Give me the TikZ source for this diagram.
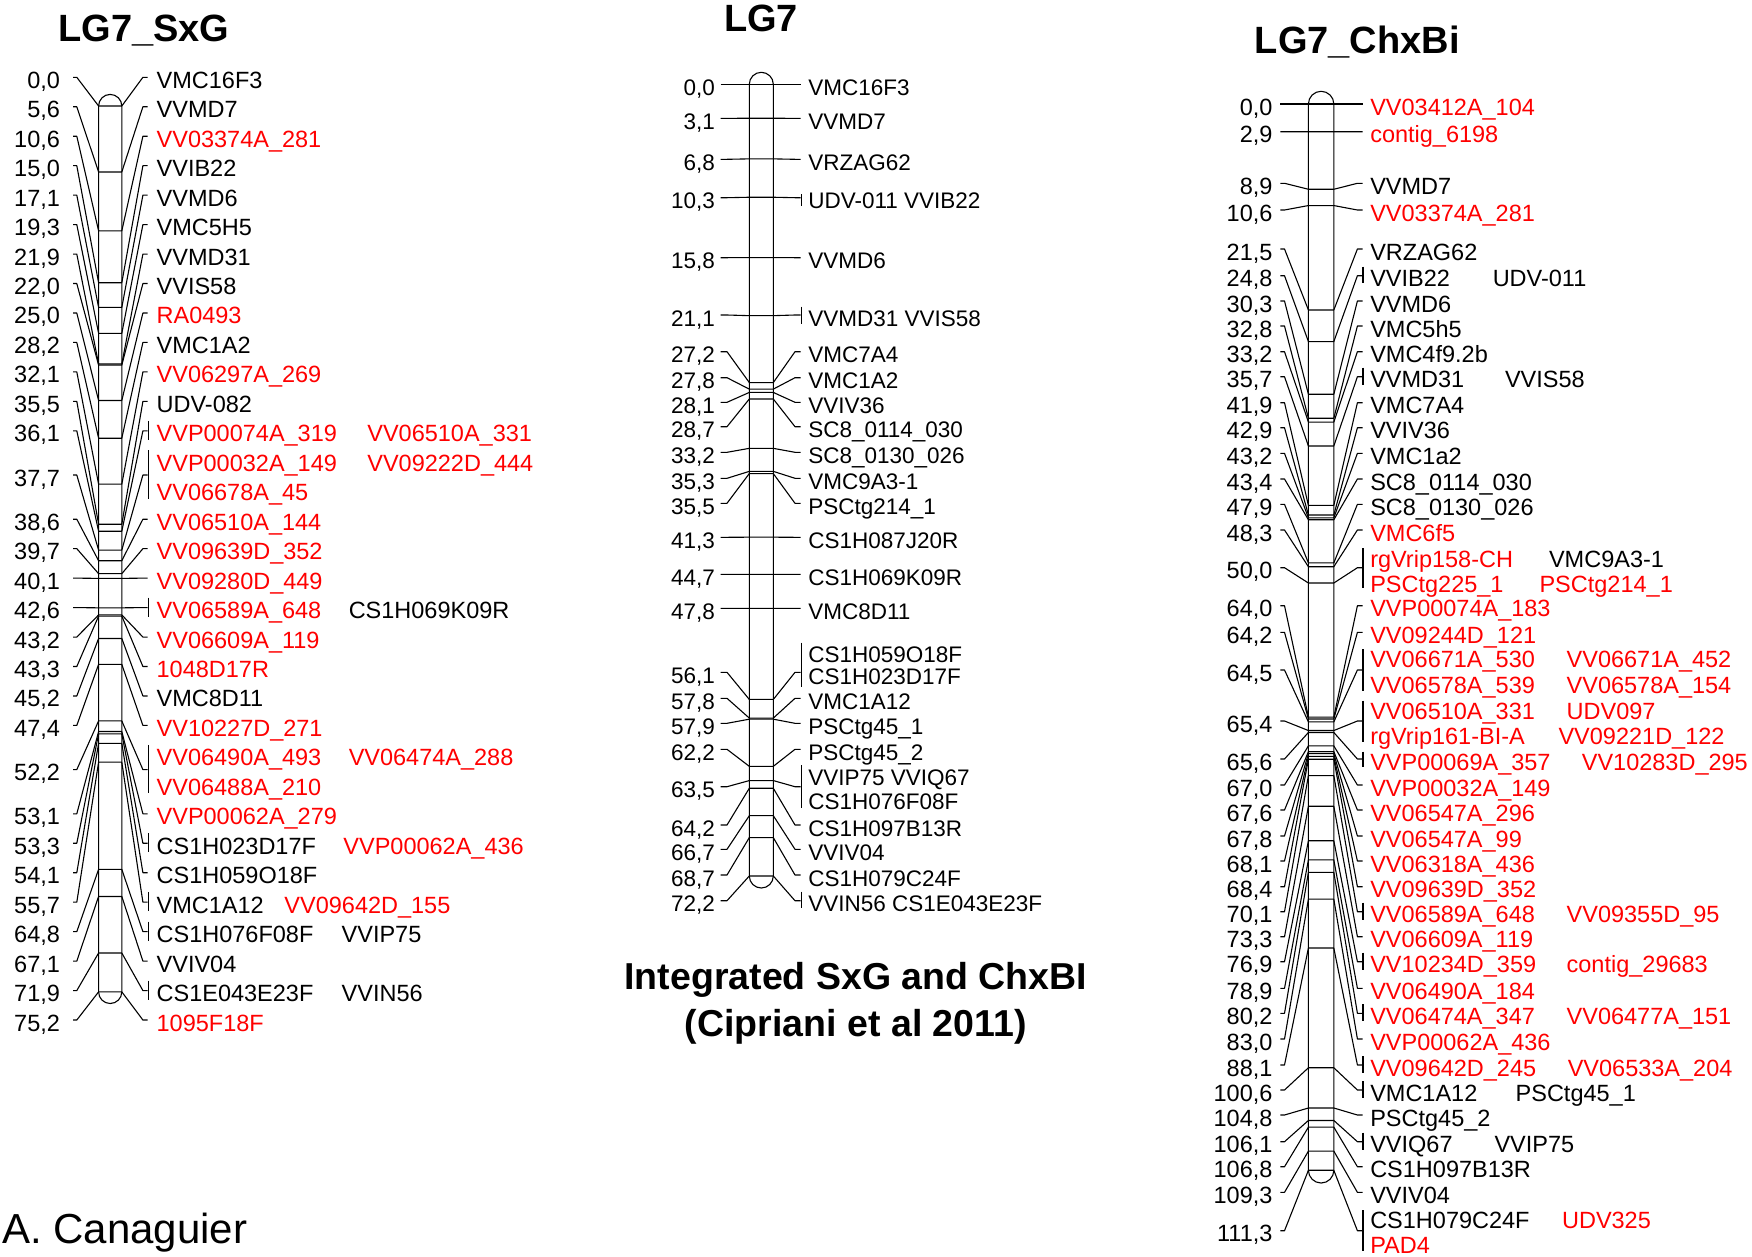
\documentclass[tikz,border=0pt]{standalone}
\usepackage{fontspec}
\setmainfont{Liberation Sans}
\pgfkeys{/pgf/number format/.cd,fixed,fixed zerofill,precision=1,use comma,assume math mode=true}
\tikzset{lbl/.style = {font=\fontsize{23.5}{28}\selectfont, inner sep=0, anchor=base west}}
\tikzset{lblm/.style = {lbl, font=\fontsize{22.5}{27}\selectfont}}
\tikzset{dist/.style = {lbl, anchor=base east}}
\tikzset{distm/.style = {lblm, anchor=base east}}
\tikzset{ttl/.style = {font=\fontsize{38}{44}\selectfont\bfseries, inner sep=0, anchor=base}}
\tikzset{
  every picture/.style={
    every path/.style={line width=1.1pt, line join=round},
  }
}

\begin{document}
\begin{tikzpicture}[x=1pt, y=-1pt]
  \useasboundingbox (0,0) rectangle (1752,1256);

  % ---------------- LG7_SxG ----------------
  \node[ttl] (sxg-title) at (143.8,41.7) {LG7\_SxG};
  \draw (98.6,106) arc[start angle=180,end angle=360,radius=11.6]
        -- (121.8,991.9) arc[start angle=0,end angle=180,radius=11.6] -- cycle;
  \foreach \cm/\rw [count=\i] in {0.0/0,5.6/1,10.6/2,15.0/3,17.1/4,19.3/5,21.9/6,
      22.0/7,25.0/8,28.2/9,32.1/10,35.5/11,36.1/12,37.7/13.5,38.6/15,39.7/16,
      40.1/17,42.6/18,43.2/19,43.3/20,45.2/21,47.4/22,52.2/23.5,53.1/25,53.3/26,
      54.1/27,55.7/28,64.8/29,67.1/30,71.9/31,75.2/32}{
    \pgfmathsetmacro\ym{106+11.78*\cm}
    \pgfmathsetmacro\yr{77.3+29.46*\rw}
    \draw (73.2,\yr) -- (76.8,\yr) -- (98.6,\ym) -- (121.8,\ym) -- (142.9,\yr) -- (147.5,\yr);
    \node[dist] (sxg-d\i) at (60.5,\yr+11) {\pgfmathprintnumber{\cm}};
  }
  \foreach \a/\b in {12/12,13/14,18/18,23/24,26/26,28/28,29/29,31/31}
    \draw (148.2,77.3+29.46*\a-10) -- (148.2,77.3+29.46*\b+9);
  \foreach \rw/\xx/\col/\txt [count=\i] in {0/156.1/black/VMC16F3,1/156.1/black/VVMD7,
      2/156.1/red/VV03374A\_281,3/156.1/black/VVIB22,4/156.1/black/VVMD6,
      5/156.1/black/VMC5H5,6/156.1/black/VVMD31,7/156.1/black/VVIS58,
      8/156.1/red/RA0493,9/156.1/black/VMC1A2,10/156.1/red/VV06297A\_269,
      11/156.1/black/UDV-082,12/156.1/red/VVP00074A\_319,12/366.8/red/VV06510A\_331,
      13/156.1/red/VVP00032A\_149,13/366.8/red/VV09222D\_444,14/156.1/red/VV06678A\_45,
      15/156.1/red/VV06510A\_144,16/156.1/red/VV09639D\_352,17/156.1/red/VV09280D\_449,
      18/156.1/red/VV06589A\_648,18/348.2/black/CS1H069K09R,19/156.1/red/VV06609A\_119,
      20/156.1/red/1048D17R,21/156.1/black/VMC8D11,22/156.1/red/VV10227D\_271,
      23/156.1/red/VV06490A\_493,23/348.2/red/VV06474A\_288,24/156.1/red/VV06488A\_210,
      25/156.1/red/VVP00062A\_279,26/156.1/black/CS1H023D17F,26/342.9/red/VVP00062A\_436,
      27/156.1/black/CS1H059O18F,28/156.1/black/VMC1A12,28/283.9/red/VV09642D\_155,
      29/156.1/black/CS1H076F08F,29/341.1/black/VVIP75,30/156.1/black/VVIV04,
      31/156.1/black/CS1E043E23F,31/341.1/black/VVIN56,32/156.1/red/1095F18F}
    \node[lbl, text=\col] (sxg-m\i) at (\xx,77.3+29.46*\rw+11) {\txt};

  % ---------------- LG7 (integrated) ----------------
  \node[ttl] (lg7-title) at (761,31.7) {LG7};
  \draw (749.3,84.3) arc[start angle=180,end angle=360,radius=12]
        -- (773.3,876) arc[start angle=0,end angle=180,radius=12] -- cycle;
  \foreach \cm/\yr [count=\i] in {0.0/84.3,3.1/118.3,6.8/159.3,10.3/197.7,15.8/257.7,
      21.1/315,27.2/351.7,27.8/377.7,28.1/402.3,28.7/426.7,33.2/452.3,35.3/478.3,
      35.5/503.3,41.3/537.3,44.7/574.3,47.8/608.3,56.1/672.3,57.8/698.3,57.9/723.3,
      62.2/749.3,63.5/786.7,64.2/825,66.7/849.3,68.7/875,72.2/900.7}{
    \pgfmathsetmacro\ym{84.3+10.965*\cm}
    \draw (720.7,\yr) -- (727,\yr) -- (749.3,\ym) -- (773.3,\ym) -- (795,\yr) -- (800.5,\yr);
    \node[distm] (lg7-d\i) at (715.5,\yr+11) {\pgfmathprintnumber{\cm}};
  }
  \foreach \a/\b in {194/206,306.7/324,642.7/686.7,765/808.3,891.7/908.3}
    \draw (801.3,\a) -- (801.3,\b);
  \foreach \yb/\txt [count=\i] in {95.3/VMC16F3,129.3/VVMD7,170.3/VRZAG62,
      208.7/UDV-011 VVIB22,268.7/VVMD6,326/VVMD31 VVIS58,362.7/VMC7A4,388.7/VMC1A2,
      413.3/VVIV36,437.7/SC8\_0114\_030,463.3/SC8\_0130\_026,489.3/VMC9A3-1,
      514.3/PSCtg214\_1,548.3/CS1H087J20R,585.3/CS1H069K09R,619.3/VMC8D11,
      662/CS1H059O18F,684/CS1H023D17F,709.3/VMC1A12,734.3/PSCtg45\_1,
      760.3/PSCtg45\_2,785.3/VVIP75 VVIQ67,809.7/CS1H076F08F,836/CS1H097B13R,
      860.3/VVIV04,886/CS1H079C24F,911.7/VVIN56 CS1E043E23F}
    \node[lblm] (lg7-m\i) at (807.7,\yb) {\txt};
  \node[ttl, font=\fontsize{37.5}{44}\selectfont\bfseries] (cap-a) at (855.8,989.3) {Integrated SxG and ChxBI};
  \node[ttl, font=\fontsize{37.5}{44}\selectfont\bfseries] (cap-b) at (855.8,1036.7) {(Cipriani et al 2011)};

  % ---------------- LG7_ChxBi ----------------
  \node[ttl] (chx-title) at (1357.2,53.3) {LG7\_ChxBi};
  \draw (1308.4,104) arc[start angle=180,end angle=360,radius=12.7]
        -- (1333.8,1170.3) arc[start angle=0,end angle=180,radius=12.7] -- cycle;
  \foreach \cm/\yr [count=\i] in {0.0/104,2.9/131.7,8.9/183.3,10.6/210,21.5/249,
      24.8/275.7,30.3/301,32.8/326,33.2/351.7,35.7/376.7,41.9/402.7,42.9/427.7,
      43.2/453.3,43.4/479,47.9/504.3,48.3/530,50.0/567.7,64.0/605.7,64.2/632.3,
      64.5/670,65.4/721,65.6/759,67.0/785,67.6/810,67.8/836,68.1/861,68.4/886.7,
      70.1/911.7,73.3/936.7,76.9/961.7,78.9/988.3,80.2/1013.3,83.0/1039,88.1/1065,
      100.6/1090,104.8/1115,106.1/1141.7,106.8/1166.7,109.3/1192.3,111.3/1230.7}{
    \pgfmathsetmacro\ym{104+9.58*\cm}
    \draw (1280.3,\yr) -- (1284.5,\yr) -- (1308.4,\ym) -- (1333.8,\ym) -- (1357.4,\yr) -- (1362.5,\yr);
    \node[dist] (chx-d\i) at (1273,\yr+11) {\pgfmathprintnumber{\cm}};
  }
  \foreach \a/\b in {266.7/283.3,367.7/384.7,548.3/588.3,649.3/690.7,700.7/741.7,
      751.7/766.7,902.7/919.7,952.7/969.7,1004.3/1021.3,1056/1073,1081/1098,
      1132.7/1149.7,1210/1250.7}
    \draw (1363,\a) -- (1363,\b);
  \foreach \yb/\xx/\col/\txt [count=\i] in {115/1369.7/red/VV03412A\_104,
      142.7/1369.7/red/contig\_6198,194.3/1369.7/black/VVMD7,221/1369.7/red/VV03374A\_281,
      260/1369.7/black/VRZAG62,286.7/1369.7/black/VVIB22,286.7/1492.2/black/UDV-011,
      312/1369.7/black/VVMD6,337/1369.7/black/VMC5h5,362.7/1369.7/black/VMC4f9.2b,
      387.7/1369.7/black/VVMD31,387.7/1504.5/black/VVIS58,413.7/1369.7/black/VMC7A4,
      438.7/1369.7/black/VVIV36,464.3/1369.7/black/VMC1a2,490/1369.7/black/SC8\_0114\_030,
      515.3/1369.7/black/SC8\_0130\_026,541/1369.7/red/VMC6f5,
      567.3/1369.7/red/rgVrip158-CH,567.3/1548.5/black/VMC9A3-1,
      592.3/1369.7/red/PSCtg225\_1,592.3/1539/red/PSCtg214\_1,
      616.7/1369.7/red/VVP00074A\_183,643.3/1369.7/red/VV09244D\_121,
      667.3/1369.7/red/VV06671A\_530,667.3/1566.1/red/VV06671A\_452,
      693/1369.7/red/VV06578A\_539,693/1566.1/red/VV06578A\_154,
      719/1369.7/red/VV06510A\_331,719/1566.1/red/UDV097,
      744.7/1369.7/red/rgVrip161-BI-A,744.7/1558/red/VV09221D\_122,
      770/1369.7/red/VVP00069A\_357,770/1581.3/red/VV10283D\_295,
      796/1369.7/red/VVP00032A\_149,821/1369.7/red/VV06547A\_296,
      847/1369.7/red/VV06547A\_99,872/1369.7/red/VV06318A\_436,
      897.7/1369.7/red/VV09639D\_352,922.7/1369.7/red/VV06589A\_648,
      922.7/1566.1/red/VV09355D\_95,947.7/1369.7/red/VV06609A\_119,
      972.7/1369.7/red/VV10234D\_359,972.7/1566.1/red/contig\_29683,
      999.3/1369.7/red/VV06490A\_184,1024.3/1369.7/red/VV06474A\_347,
      1024.3/1566.1/red/VV06477A\_151,1050/1369.7/red/VVP00062A\_436,
      1076/1369.7/red/VV09642D\_245,1076/1567.2/red/VV06533A\_204,
      1101/1369.7/black/VMC1A12,1101/1515.1/black/PSCtg45\_1,
      1126/1369.7/black/PSCtg45\_2,1152.7/1369.7/black/VVIQ67,1152.7/1494/black/VVIP75,
      1177.7/1369.7/black/CS1H097B13R,1203.3/1369.7/black/VVIV04,
      1228/1369.7/black/CS1H079C24F,1228/1561.5/red/UDV325,1253/1369.7/red/PAD4}
    \node[lbl, text=\col] (chx-m\i) at (\xx,\yb) {\txt};

  \node[lbl, font=\fontsize{42}{50}\selectfont] (author) at (1.5,1243.3) {A. Canaguier};
\end{tikzpicture}
\end{document}
